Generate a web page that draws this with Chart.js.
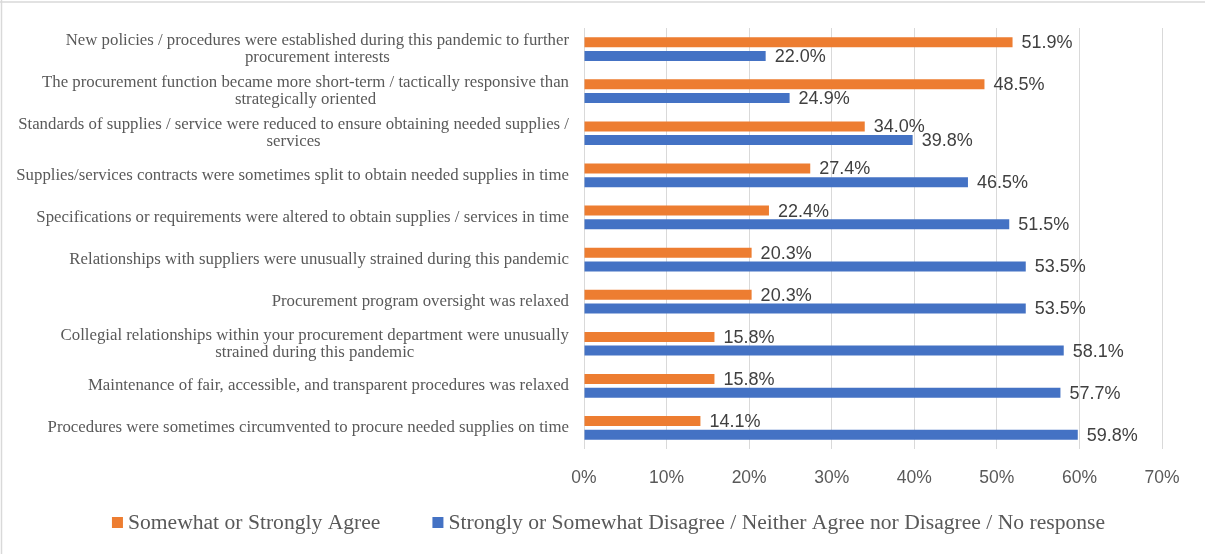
<!DOCTYPE html>
<html>
<head>
<meta charset="utf-8">
<script src="https://cdn.jsdelivr.net/npm/chart.js@4.4.1/dist/chart.umd.min.js"></script>
<style>
  html, body { margin: 0; padding: 0; background: #fff; }
  #wrap { width: 1205px; height: 554px; position: relative; }
</style>
</head>
<body>
<div id="wrap"><canvas id="myChart"></canvas></div>
<script>
// ---- donnees du graphique ----
const categories = [
  ['New policies / procedures were established during this pandemic to further', 'procurement interests'],
  ['The procurement function became more short-term / tactically responsive than', 'strategically oriented'],
  ['Standards of supplies / service were reduced to ensure obtaining needed supplies /', 'services'],
  ['Supplies/services contracts were sometimes split to obtain needed supplies in time'],
  ['Specifications or requirements were altered to obtain supplies / services in time'],
  ['Relationships with suppliers were unusually strained during this pandemic'],
  ['Procurement program oversight was relaxed'],
  ['Collegial relationships within your procurement department were unusually', 'strained during this pandemic'],
  ['Maintenance of fair, accessible, and transparent procedures was relaxed'],
  ['Procedures were sometimes circumvented to procure needed supplies on time']
];
const agree = [51.9, 48.5, 34.0, 27.4, 22.4, 20.3, 20.3, 15.8, 15.8, 14.1];
const disagree = [22.0, 24.9, 39.8, 46.5, 51.5, 53.5, 53.5, 58.1, 57.7, 59.8];
const seriesNames = [
  'Somewhat or Strongly Agree',
  'Strongly or Somewhat Disagree / Neither Agree nor Disagree / No response'
];
const xTicks = [0, 10, 20, 30, 40, 50, 60, 70];

const orange = '#ED7D31';
const blue = '#4472C4';

// etiquettes des categories (lignes centrees, bloc aligne a droite)
const categoryLabels = {
  id: 'categoryLabels',
  afterDraw(chart) {
    const ctx = chart.ctx;
    const yScale = chart.scales.y;
    ctx.save();
    ctx.font = '16.8px "Liberation Serif"';
    ctx.fillStyle = '#595959';
    ctx.textAlign = 'center';
    ctx.textBaseline = 'middle';
    categories.forEach((lines, i) => {
      const y = yScale.getPixelForValue(i);
      const w = Math.max(...lines.map(l => ctx.measureText(l).width));
      const cx = chart.chartArea.left - 15 - w / 2;
      lines.forEach((l, k) => {
        ctx.fillText(l, cx, y + (k - (lines.length - 1) / 2) * 17);
      });
    });
    ctx.restore();
  }
};

// valeurs au bout des barres
const barValues = {
  id: 'barValues',
  afterDatasetsDraw(chart) {
    const ctx = chart.ctx;
    ctx.save();
    ctx.font = '18px "Liberation Sans"';
    ctx.fillStyle = '#404040';
    ctx.textAlign = 'left';
    ctx.textBaseline = 'middle';
    chart.data.datasets.forEach((ds, i) => {
      chart.getDatasetMeta(i).data.forEach((bar, j) => {
        ctx.fillText(ds.data[j].toFixed(1) + '%', bar.x + 9, bar.y + 1);
      });
    });
    ctx.restore();
  }
};

// legende en bas (petit carre colle au texte)
const bottomLegend = {
  id: 'bottomLegend',
  afterDraw(chart) {
    const ctx = chart.ctx;
    ctx.save();
    ctx.font = '21.6px "Liberation Serif"';
    ctx.textBaseline = 'middle';
    ctx.textAlign = 'left';
    const box = 11, gapText = 5, gapItem = 52;
    const items = chart.data.datasets.map(ds => ({
      text: ds.label, color: ds.backgroundColor, w: ctx.measureText(ds.label).width
    }));
    const total = items.reduce((s, it) => s + box + gapText + it.w, 0) + gapItem * (items.length - 1);
    let x = chart.width / 2 + 6 - total / 2;
    const y = chart.height - 31.5;
    items.forEach(it => {
      ctx.fillStyle = it.color;
      ctx.fillRect(x, y - box / 2, box, box);
      ctx.fillStyle = '#595959';
      ctx.fillText(it.text, x + box + gapText, y + 1);
      x += box + gapText + it.w + gapItem;
    });
    ctx.restore();
  }
};

// bordure haut / gauche
const frame = {
  id: 'frame',
  beforeDraw(chart) {
    const ctx = chart.ctx;
    ctx.save();
    ctx.fillStyle = '#fff';
    ctx.fillRect(0, 0, chart.width, chart.height);
    ctx.strokeStyle = '#d9d9d9';
    ctx.lineWidth = 1.5;
    ctx.beginPath();
    ctx.moveTo(0, 2);
    ctx.lineTo(chart.width, 2);
    ctx.moveTo(1.5, 0);
    ctx.lineTo(1.5, chart.height);
    ctx.stroke();
    ctx.restore();
  }
};

const myGraph = new Chart(document.getElementById('myChart'), {
  type: 'bar',
  data: {
    labels: categories,
    datasets: [
      { label: seriesNames[0], data: agree, backgroundColor: orange },
      { label: seriesNames[1], data: disagree, backgroundColor: blue }
    ]
  },
  options: {
    indexAxis: 'y',
    responsive: true,
    maintainAspectRatio: false,
    animation: false,
    categoryPercentage: 0.65,
    barPercentage: 0.73,
    layout: { padding: { left: 0, right: 43, top: 28, bottom: 65 } },
    scales: {
      x: {
        min: 0,
        max: 70,
        afterBuildTicks(scale) {
          scale.ticks = xTicks.map(v => ({ value: v }));
        },
        afterFit(scale) { scale.height = 40; },
        ticks: {
          callback: v => v + '%',
          font: { family: '"Liberation Sans"', size: 17.5 },
          color: '#595959',
          padding: 19
        },
        grid: { color: '#d9d9d9', lineWidth: 1, drawTicks: false },
        border: { display: false }
      },
      y: {
        afterFit(scale) { scale.width = 584; },
        ticks: { display: false },
        grid: { display: false },
        border: { display: false }
      }
    },
    plugins: {
      legend: { display: false },
      tooltip: { enabled: false }
    }
  },
  plugins: [frame, categoryLabels, barValues, bottomLegend]
});
</script>
</body>
</html>
